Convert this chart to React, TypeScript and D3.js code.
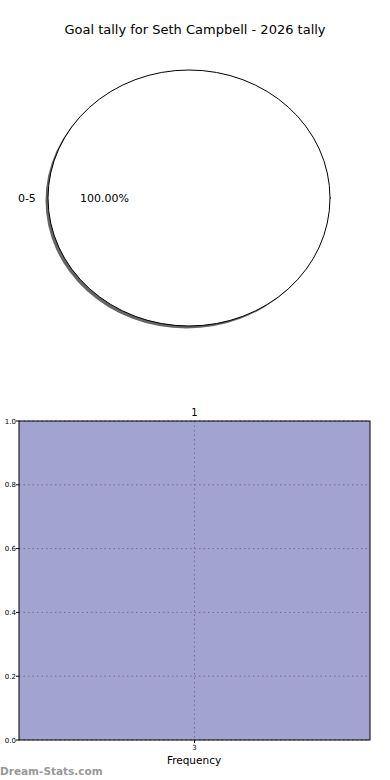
import React from "react";
import * as d3 from "d3";

const TITLE = "Goal tally for Seth Campbell - 2026 tally";
const pieCategories = ["0-5"];
const pieValues = [100];
const barCategories = ["3"];
const barValues = [1];
const barTopLabels = ["1"];
const yTicks = [0, 0.2, 0.4, 0.6, 0.8, 1.0];

export default function App() {
  const W = 390, H = 780;
  const font = "DejaVu Sans, sans-serif";
  // pie
  const cx = 189, cy = 198, rx = 141, ry = 128;
  const pie = d3.pie<number>().sort(null).startAngle(Math.PI / 2).endAngle(Math.PI / 2 + 2 * Math.PI)(pieValues);
  const arc = d3.arc<d3.PieArcDatum<number>>().innerRadius(0).outerRadius(1);
  const total = d3.sum(pieValues);

  // bar
  const left = 19, right = 370, top = 421, bottom = 740;
  const x = d3.scaleBand().domain(barCategories).range([left, right]).padding(0);
  const y = d3.scaleLinear().domain([0, 1]).range([bottom, top]);

  return (
    <svg width={W} height={H} style={{ position: "absolute", left: 0, top: 0, background: "#fff" }} fontFamily={font}>
      <rect x={0} y={0} width={W} height={H} fill="#fff" />
      <text x={195} y={34} textAnchor="middle" fontSize={13}>{TITLE}</text>
      {pie.map((p, i) => (
        <g key={i}>
          <g transform={`translate(${cx - 2.5},${cy + 2.5}) scale(${rx},${ry})`}>
            <path d={arc(p) || ""} fill="#666" />
          </g>
          <g transform={`translate(${cx},${cy}) scale(${rx},${ry})`}>
            <path d={arc(p) || ""} fill="#fff" stroke="#000" strokeWidth={1} vectorEffect="non-scaling-stroke" />
          </g>
          <text x={cx - rx * 1.1 - 7} y={cy + 4} textAnchor="middle" fontSize={11}>{pieCategories[i]}</text>
          <text x={cx - rx * 0.6} y={cy + 4} textAnchor="middle" fontSize={11}>{`${((pieValues[i] / total) * 100).toFixed(2)}%`}</text>
        </g>
      ))}
      <line x1={cx + rx} x2={cx + rx + 1} y1={cy} y2={cy} stroke="#000" />

      {/* bar chart */}
      {barCategories.map((c, i) => (
        <rect key={c} x={x(c)} y={y(barValues[i])} width={x.bandwidth()} height={bottom - y(barValues[i])} fill="#a3a3d1" />
      ))}
      {yTicks.map(t => (
        <g key={t}>
          <line x1={left} x2={right} y1={y(t)} y2={y(t)} stroke="#707080" strokeDasharray="1.5,3" strokeWidth={1} />
          <line x1={left - 3} x2={left} y1={y(t)} y2={y(t)} stroke="#000" />
          <text x={left - 3} y={y(t) + 2.5} textAnchor="end" fontSize={7}>{t.toFixed(1)}</text>
        </g>
      ))}
      {barCategories.map(c => (
        <g key={"g" + c}>
          <line x1={x(c)! + x.bandwidth() / 2} x2={x(c)! + x.bandwidth() / 2} y1={top} y2={bottom} stroke="#707080" strokeDasharray="1.5,3" />
          <line x1={x(c)! + x.bandwidth() / 2} x2={x(c)! + x.bandwidth() / 2} y1={bottom} y2={bottom + 3} stroke="#000" />
          <text x={x(c)! + x.bandwidth() / 2} y={750} textAnchor="middle" fontSize={7}>{c}</text>
        </g>
      ))}
      {barCategories.map((c, i) => (
        <text key={"t" + c} x={x(c)! + x.bandwidth() / 2} y={y(barValues[i]) - 5} textAnchor="middle" fontSize={10}>{barTopLabels[i]}</text>
      ))}
      <rect x={left} y={top} width={right - left} height={bottom - top} fill="none" stroke="#000" strokeWidth={1} />
      <text x={194} y={764} textAnchor="middle" fontSize={10.5}>Frequency</text>
      <text x={0} y={775} fontSize={10.5} fontWeight="bold" fill="#999">Dream-Stats.com</text>
    </svg>
  );
}
